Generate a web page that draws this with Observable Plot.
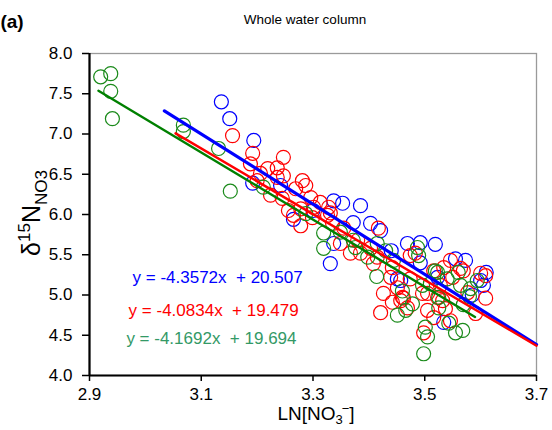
<!DOCTYPE html>
<html>
<head>
<meta charset="utf-8">
<script src="https://cdn.jsdelivr.net/npm/d3@7"></script>
<script src="https://cdn.jsdelivr.net/npm/@observablehq/plot@0.6"></script>
<style>
  body { margin: 0; background: white; }
  #chart { width: 552px; height: 430px; }
</style>
</head>
<body>
<div id="chart"></div>
<script>
// ---- data ----
const blueX = [3.136,3.151,3.194,3.192,3.242,3.265,3.337,3.353,3.385,3.372,3.403,3.421,3.337,3.331,3.469,3.492,3.519,3.555,3.573,3.451,3.523,3.600,3.605,3.534,3.457,3.492,3.300,3.440,3.610,3.585];
const blueY = [7.40,7.19,6.92,6.39,6.36,5.94,6.17,6.14,6.11,5.90,5.89,5.80,5.64,5.39,5.64,5.65,5.63,5.45,5.43,5.20,5.22,5.18,5.12,4.66,5.18,5.40,6.05,5.55,5.28,5.00];

const redX = [3.156,3.192,3.188,3.247,3.219,3.236,3.206,3.247,3.281,3.269,3.224,3.245,3.256,3.296,3.278,3.301,3.313,3.278,3.265,3.331,3.335,3.236,3.287,3.328,3.326,3.355,3.349,3.380,3.367,3.385,3.403,3.415,3.299,3.417,3.408,3.442,3.439,3.451,3.460,3.474,3.516,3.534,3.546,3.569,3.550,3.528,3.505,3.426,3.421,3.442,3.462,3.496,3.498,3.505,3.523,3.516,3.564,3.600,3.609,3.609,3.591,3.577,3.532,3.537,3.546,3.474,3.483,3.457,3.469,3.200];
const redY = [6.98,6.76,6.63,6.71,6.57,6.58,6.51,6.48,6.42,6.32,6.24,6.20,6.05,6.21,6.07,6.09,6.15,5.86,5.99,6.02,5.89,6.46,6.36,6.09,5.99,5.83,5.64,5.68,5.52,5.52,5.58,5.47,5.96,5.83,5.39,5.34,5.22,5.09,4.97,5.20,5.30,5.34,5.43,5.30,5.22,5.12,5.02,5.02,4.78,4.91,4.96,5.02,4.53,4.81,4.97,4.72,5.33,5.27,5.24,4.96,4.77,5.03,4.93,4.83,4.68,5.49,5.52,4.93,4.84,6.42];

const greenX = [2.920,2.938,2.938,2.941,3.068,3.068,3.131,3.152,3.211,3.287,3.319,3.319,3.349,3.372,3.376,3.398,3.415,3.414,3.444,3.487,3.489,3.519,3.523,3.560,3.564,3.496,3.594,3.582,3.525,3.525,3.451,3.466,3.478,3.501,3.505,3.498,3.543,3.555,3.568,3.569,3.510,3.540,3.430,3.460,3.580];
const greenY = [7.71,7.75,7.53,7.19,7.11,7.03,6.82,6.29,6.34,6.01,5.77,5.58,5.78,5.68,5.59,5.47,5.64,5.23,5.43,5.59,5.49,5.30,5.28,5.28,5.12,5.12,5.18,5.08,4.97,4.84,4.75,4.81,4.89,4.60,4.48,4.27,4.65,4.53,4.56,4.88,5.14,5.20,5.55,5.05,4.98];

// regression line end points (x, y) as drawn
const blueLineX = [3.034, 3.700], blueLineY = [7.287, 4.385];
const redLineX = [3.054, 3.700], redLineY = [7.008, 4.370];
const greenLineX = [2.916, 3.590], greenLineY = [7.537, 4.727];

const equations = ["y = -4.3572x  + 20.507", "y = -4.0834x  + 19.479", "y = -4.1692x  + 19.694"];
const xTicks = [2.9, 3.1, 3.3, 3.5, 3.7];
const yTicks = [4.0, 4.5, 5.0, 5.5, 6.0, 6.5, 7.0, 7.5, 8.0];

// ---- build tables ----
const pts = (xs, ys) => xs.map((x, i) => ({x, y: ys[i]}));
const blue = pts(blueX, blueY), red = pts(redX, redY), green = pts(greenX, greenY);
const bLine = pts(blueLineX, blueLineY), rLine = pts(redLineX, redLineY), gLine = pts(greenLineX, greenLineY);

const eqColors = ["#0000ff", "#ff0000", "#339966"];
const eqPosX = [2.977, 2.970, 2.966];
const eqPosY = [5.217, 4.807, 4.46];
const eqs = equations.map((t, i) => ({t, x: eqPosX[i], y: eqPosY[i], c: eqColors[i]}));

const font = "'Liberation Sans', Arial, sans-serif";
const R = 7;

const svg = Plot.plot({
  width: 552,
  height: 430,
  marginLeft: 89,
  marginRight: 16,
  marginTop: 53,
  marginBottom: 55,
  style: {fontFamily: font, fontSize: "17px", background: "white", color: "black", overflow: "visible"},
  x: {domain: [2.9, 3.7]},
  y: {domain: [4, 8]},
  marks: [
    Plot.frame({stroke: "#9a9a9a", strokeWidth: 1.3}),
    Plot.dot(blue, {x: "x", y: "y", r: R, stroke: "#0000ff", strokeWidth: 1.2, fill: "none"}),
    Plot.dot(red, {x: "x", y: "y", r: R, stroke: "#ff0000", strokeWidth: 1.2, fill: "none"}),
    Plot.dot(green, {x: "x", y: "y", r: R, stroke: "#1a8a1a", strokeWidth: 1.2, fill: "none"}),
    Plot.line(bLine, {x: "x", y: "y", stroke: "#0000ff", strokeWidth: 3.2}),
    Plot.line(rLine, {x: "x", y: "y", stroke: "#ff0000", strokeWidth: 2.4}),
    Plot.line(gLine, {x: "x", y: "y", stroke: "#008000", strokeWidth: 2.4}),
    Plot.text(eqs, {x: "x", y: "y", text: "t", fill: "c", textAnchor: "start", lineAnchor: "middle", fontSize: 17}),
    Plot.ruleX([2.9], {stroke: "black", strokeWidth: 2.2}),
    Plot.ruleY([4], {stroke: "black", strokeWidth: 2.2}),
    Plot.axisX({ticks: xTicks, tickFormat: d3.format(".1f"), tickSize: 6, tickPadding: 6, strokeWidth: 1.5, label: null, fontSize: 17}),
    Plot.axisY({ticks: yTicks, tickFormat: d3.format(".1f"), tickSize: 7, tickPadding: 10, strokeWidth: 1.5, label: null, fontSize: 17})
  ]
});

document.getElementById("chart").appendChild(svg);

// ---- extra texts (title, panel letter, axis titles) ----
const s = d3.select(svg);
s.append("text").attr("x", 305).attr("y", 24).attr("text-anchor", "middle")
  .attr("font-family", font).attr("font-size", 13.5).attr("fill", "black").text("Whole water column");
s.append("text").attr("x", 12).attr("y", 28)
  .attr("font-family", font).attr("font-size", 19).attr("font-weight", "bold").attr("fill", "black").text("(a)");

const yl = s.append("text").attr("transform", "translate(40,213) rotate(-90)")
  .attr("text-anchor", "middle").attr("font-family", font).attr("fill", "black");
yl.append("tspan").attr("font-size", 25).text("δ");
yl.append("tspan").attr("font-size", 17).attr("dy", -10).text("15");
yl.append("tspan").attr("font-size", 25).attr("dy", 10).text("N");
yl.append("tspan").attr("font-size", 17).attr("dy", 7).text("NO3");

const xl = s.append("text").attr("x", 316).attr("y", 420)
  .attr("text-anchor", "middle").attr("font-family", font).attr("fill", "black");
xl.append("tspan").attr("font-size", 19).text("LN[NO");
xl.append("tspan").attr("font-size", 13).attr("dy", 4).text("3");
xl.append("tspan").attr("font-size", 13).attr("dy", -11).attr("dx", -1).text("−");
xl.append("tspan").attr("font-size", 19).attr("dy", 7).text("]");
</script>
</body>
</html>
